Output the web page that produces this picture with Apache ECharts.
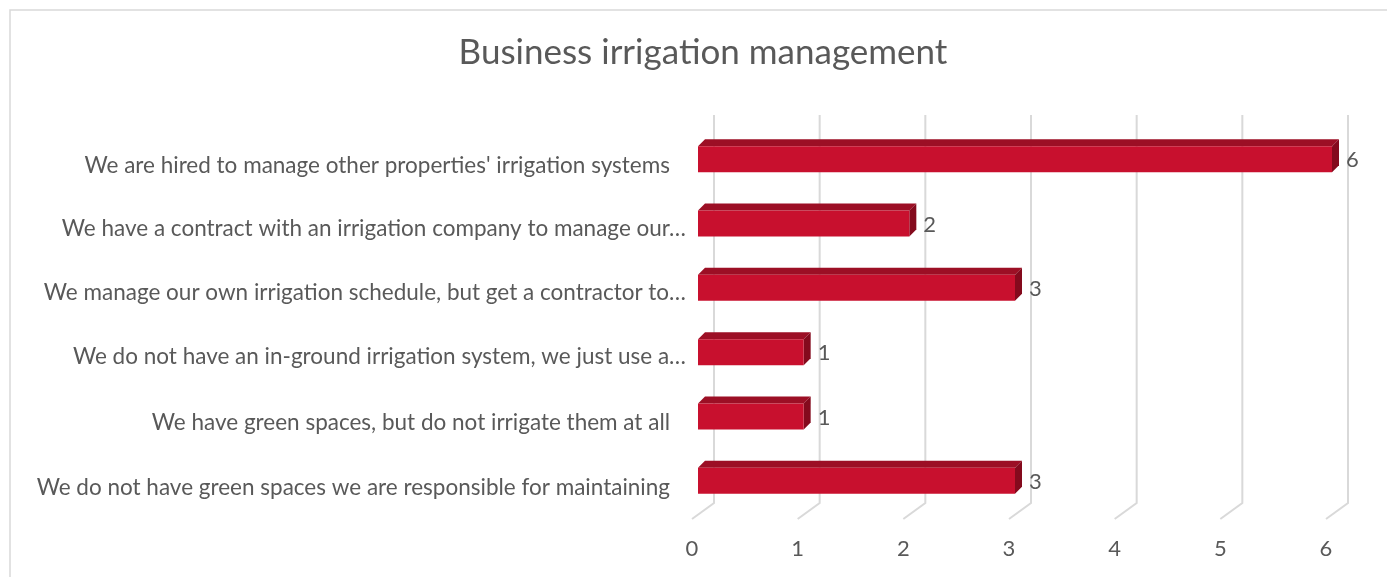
<!DOCTYPE html>
<html>
<head>
<meta charset="utf-8">
<script src="https://cdn.jsdelivr.net/npm/echarts@6/dist/echarts.min.js"></script>
<style>
  html, body { margin: 0; padding: 0; background: #fff; }
  #chart { width: 1387px; height: 577px; }
</style>
</head>
<body>
<div id="chart"></div>
<script>
// categories top to bottom, as shown (long ones cut by the chart)
var categories = [
  "We are hired to manage other properties' irrigation systems",
  "We have a contract with an irrigation company to manage our\u2026",
  "We manage our own irrigation schedule, but get a contractor to\u2026",
  "We do not have an in-ground irrigation system, we just use a\u2026",
  "We have green spaces, but do not irrigate them at all",
  "We do not have green spaces we are responsible for maintaining"
];
var counts = [6, 2, 3, 1, 1, 3];
var xTicks = [0, 1, 2, 3, 4, 5, 6];

var font = 'Lato, "Open Sans", sans-serif';
var textColor = '#595959';
var gridColor = '#d9d9d9';

var chart = echarts.init(document.getElementById('chart'));

// 3d look of the excel bars
var depth = 7;
var barH = 26;

var renderBar = function(params, api) {
  var idx = api.value(1);
  var v = api.value(0);
  var p0 = api.coord([0, idx]);
  var p1 = api.coord([v, idx]);
  var top = p0[1] - barH / 2;
  var bottom = p0[1] + barH / 2;
  var x0 = p0[0], x1 = p1[0];
  return {
    type: 'group',
    children: [
      {
        type: 'polygon',
        shape: { points: [[x0, top], [x0 + depth, top - depth], [x1 + depth, top - depth], [x1, top]] },
        style: { fill: '#9c0f25' }
      },
      {
        type: 'polygon',
        shape: { points: [[x1, top], [x1 + depth, top - depth], [x1 + depth, bottom - depth], [x1, bottom]] },
        style: { fill: '#840a1d' }
      },
      {
        type: 'rect',
        shape: { x: x0, y: top, width: x1 - x0, height: barH },
        style: { fill: '#c8102e' }
      },
      {
        type: 'text',
        x: x1 + 14,
        y: p0[1] + 1,
        style: {
          text: String(v),
          fill: textColor,
          font: '22px ' + font,
          textAlign: 'left',
          textVerticalAlign: 'middle'
        }
      }
    ]
  };
};

// back wall + floor lines
var renderGridLine = function(params, api) {
  var cs = params.coordSys;
  var x = api.coord([api.value(0), 0])[0];
  var yTop = cs.y - 12;
  var yBot = cs.y + cs.height - 10;
  return {
    type: 'polyline',
    shape: { points: [[x + 16, yTop], [x + 16, yBot], [x - 6, yBot + 16]] },
    style: { stroke: gridColor, lineWidth: 2, fill: null }
  };
};

var barData = counts.map(function(c, i) { return [c, i]; });
var tickData = xTicks.map(function(t) { return [t, 0]; });

var option = {
  backgroundColor: '#fff',
  animation: false,
  title: {
    text: 'Business irrigation management',
    left: 703,
    top: 35,
    padding: 0,
    textAlign: 'center',
    textStyle: { fontFamily: font, fontSize: 35, fontWeight: 'normal', color: textColor }
  },
  graphic: [{
    type: 'rect',
    shape: { x: 10, y: 10, width: 1500, height: 700 },
    style: { fill: null, stroke: gridColor, lineWidth: 1.5 },
    silent: true
  }],
  grid: { left: 698, right: 55, top: 127, bottom: 64 },
  xAxis: {
    type: 'value',
    min: 0,
    max: 6,
    interval: 1,
    axisLine: { show: false },
    axisTick: { show: false },
    splitLine: { show: false },
    axisLabel: {
      margin: 25,
      padding: [0, 12, 0, 0],
      fontFamily: font,
      fontSize: 22,
      color: textColor
    }
  },
  yAxis: {
    type: 'category',
    inverse: true,
    data: categories,
    axisLine: { show: false },
    axisTick: { show: false },
    axisLabel: {
      margin: 12,
      fontFamily: font,
      fontSize: 22.5,
      color: textColor,
      padding: [10, 0, 0, 0],
      formatter: function(val) {
        if (val.slice(-1) === '\u2026') return val;
        return '{b|' + val + '}';
      },
      rich: {
        b: { fontFamily: font, fontSize: 22.5, color: textColor, padding: [3, 16, 0, 0] }
      }
    }
  },
  series: [
    {
      type: 'custom',
      renderItem: renderGridLine,
      data: tickData,
      z: 1,
      silent: true
    },
    {
      type: 'custom',
      renderItem: renderBar,
      encode: { x: 0, y: 1 },
      data: barData,
      z: 2
    }
  ]
};

chart.setOption(option);
</script>
</body>
</html>
